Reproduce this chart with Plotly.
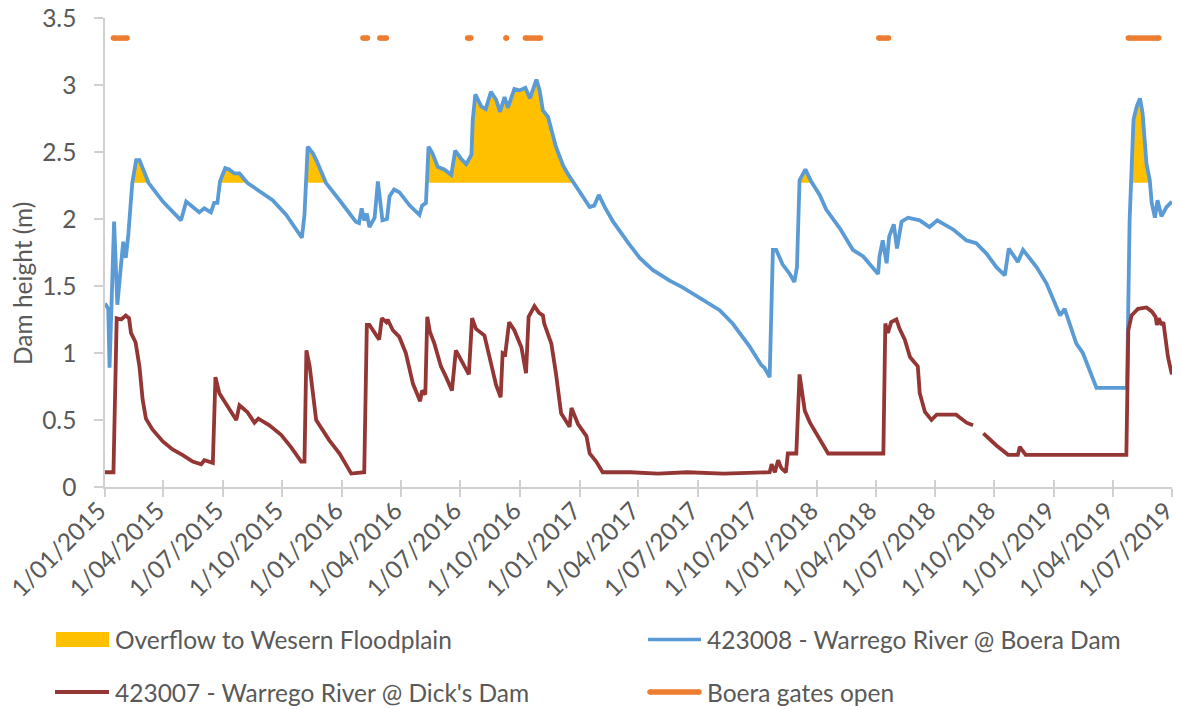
import pandas as pd
import plotly.graph_objects as go

# ---------------- data ----------------
boera_dates = [
    "2015-01-01", "2015-01-06", "2015-01-08", "2015-01-15", "2015-01-20", "2015-01-29",
    "2015-02-02", "2015-02-06", "2015-02-12", "2015-02-18", "2015-02-23", "2015-03-09",
    "2015-03-31", "2015-04-28", "2015-05-06", "2015-05-26", "2015-06-03", "2015-06-13",
    "2015-06-18", "2015-06-23", "2015-06-27", "2015-07-05", "2015-07-11", "2015-07-19",
    "2015-07-27", "2015-08-08", "2015-09-16", "2015-10-07", "2015-10-31", "2015-11-04",
    "2015-11-09", "2015-11-17", "2015-11-24", "2015-12-07", "2015-12-28", "2016-01-15",
    "2016-01-22", "2016-01-27", "2016-01-31", "2016-02-04", "2016-02-08", "2016-02-12",
    "2016-02-20", "2016-02-25", "2016-03-03", "2016-03-10", "2016-03-14", "2016-03-21",
    "2016-03-29", "2016-04-14", "2016-04-29", "2016-05-03", "2016-05-09", "2016-05-13",
    "2016-05-19", "2016-05-27", "2016-06-06", "2016-06-17", "2016-06-23", "2016-07-02",
    "2016-07-10", "2016-07-18", "2016-07-20", "2016-07-24", "2016-08-02", "2016-08-09",
    "2016-08-17", "2016-08-25", "2016-08-31", "2016-09-07", "2016-09-12", "2016-09-22",
    "2016-09-30", "2016-10-09", "2016-10-16", "2016-10-26", "2016-10-31", "2016-11-05",
    "2016-11-13", "2016-11-25", "2016-12-06", "2016-12-13", "2016-12-21", "2017-01-03",
    "2017-01-16", "2017-01-23", "2017-01-30", "2017-02-08", "2017-02-21", "2017-03-18",
    "2017-04-03", "2017-04-23", "2017-05-19", "2017-06-08", "2017-06-29", "2017-08-04",
    "2017-08-24", "2017-09-19", "2017-10-07", "2017-10-12", "2017-10-20", "2017-10-25",
    "2017-10-30", "2017-11-09", "2017-11-20", "2017-11-27", "2017-12-01", "2017-12-05",
    "2017-12-14", "2017-12-23", "2018-01-05", "2018-01-15", "2018-02-05", "2018-02-25",
    "2018-03-13", "2018-03-26", "2018-04-05", "2018-04-07", "2018-04-12", "2018-04-18",
    "2018-04-22", "2018-04-29", "2018-05-04", "2018-05-11", "2018-05-21", "2018-06-08",
    "2018-06-23", "2018-07-05", "2018-07-30", "2018-08-19", "2018-09-03", "2018-09-19",
    "2018-10-04", "2018-10-17", "2018-10-23", "2018-11-06", "2018-11-14", "2018-12-05",
    "2018-12-20", "2019-01-10", "2019-01-17", "2019-02-04", "2019-02-14", "2019-03-07",
    "2019-04-23", "2019-04-27", "2019-05-03", "2019-05-08", "2019-05-13", "2019-05-17",
    "2019-05-23", "2019-05-28", "2019-05-31", "2019-06-05", "2019-06-09", "2019-06-15",
    "2019-06-23", "2019-07-01",
]
boera_level = [
    1.37, 1.33, 0.89, 1.98, 1.36, 1.83,
    1.71, 1.89, 2.27, 2.44, 2.44, 2.27,
    2.13, 1.99, 2.13, 2.05, 2.08, 2.05,
    2.12, 2.12, 2.28, 2.38, 2.37, 2.34,
    2.34, 2.27, 2.14, 2.03, 1.86, 2.03,
    2.54, 2.49, 2.42, 2.27, 2.14, 2.02,
    1.98, 1.97, 2.08, 1.99, 2.04, 1.94,
    2.01, 2.28, 1.99, 2.00, 2.17, 2.22,
    2.20, 2.10, 2.03, 2.10, 2.12, 2.54,
    2.49, 2.39, 2.37, 2.33, 2.51, 2.45,
    2.41, 2.48, 2.74, 2.93, 2.84, 2.82,
    2.95, 2.89, 2.80, 2.91, 2.83, 2.97,
    2.96, 2.98, 2.90, 3.04, 2.96, 2.81,
    2.76, 2.54, 2.40, 2.34, 2.28, 2.19,
    2.09, 2.10, 2.18, 2.09, 1.98, 1.81,
    1.71, 1.62, 1.54, 1.49, 1.43, 1.32,
    1.22, 1.05, 0.91, 0.89, 0.82, 1.77,
    1.77, 1.66, 1.59, 1.53, 1.64, 2.29,
    2.37, 2.28, 2.18, 2.07, 1.93, 1.77,
    1.72, 1.64, 1.59, 1.72, 1.84, 1.67,
    1.87, 1.96, 1.78, 1.98, 2.01, 1.99,
    1.94, 1.99, 1.92, 1.84, 1.82, 1.74,
    1.64, 1.58, 1.78, 1.68, 1.77, 1.64,
    1.52, 1.28, 1.33, 1.07, 1.00, 0.74,
    0.74, 1.99, 2.74, 2.84, 2.90, 2.79,
    2.41, 2.29, 2.12, 2.01, 2.14, 2.02,
    2.09, 2.13,
]

dicks_dates = [
    "2015-01-01", "2015-01-14", "2015-01-19", "2015-01-26", "2015-02-02", "2015-02-07",
    "2015-02-10", "2015-02-17", "2015-02-23", "2015-02-28", "2015-03-05", "2015-03-15",
    "2015-03-31", "2015-04-15", "2015-04-30", "2015-05-16", "2015-05-29", "2015-06-03",
    "2015-06-16", "2015-06-20", "2015-06-26", "2015-07-09", "2015-07-22", "2015-07-27",
    "2015-08-08", "2015-08-19", "2015-08-25", "2015-09-11", "2015-09-29", "2015-10-14",
    "2015-10-30", "2015-11-04", "2015-11-07", "2015-11-12", "2015-11-22", "2015-12-12",
    "2015-12-28", "2016-01-09", "2016-01-15", "2016-02-04", "2016-02-08", "2016-02-12",
    "2016-02-27", "2016-03-02", "2016-03-09", "2016-03-11", "2016-03-19", "2016-03-29",
    "2016-04-08", "2016-04-19", "2016-04-30", "2016-05-03", "2016-05-08", "2016-05-11",
    "2016-05-15", "2016-05-22", "2016-06-01", "2016-06-09", "2016-06-18", "2016-06-24",
    "2016-07-05", "2016-07-14", "2016-07-19", "2016-07-25", "2016-08-07", "2016-08-15",
    "2016-08-25", "2016-09-01", "2016-09-04", "2016-09-08", "2016-09-14", "2016-09-22",
    "2016-10-03", "2016-10-10", "2016-10-14", "2016-10-23", "2016-10-30", "2016-11-05",
    "2016-11-07", "2016-11-18", "2016-11-25", "2016-12-03", "2016-12-16", "2016-12-19",
    "2016-12-29", "2017-01-11", "2017-01-16", "2017-01-26", "2017-02-05", "2017-03-20",
    "2017-05-01", "2017-06-15", "2017-08-10", "2017-10-20", "2017-10-23", "2017-10-28",
    "2017-11-02", "2017-11-07", "2017-11-14", "2017-11-17", "2017-11-30", "2017-12-05",
    "2017-12-13", "2017-12-21", "2018-01-05", "2018-01-18", "2018-04-13", "2018-04-16",
    "2018-04-20", "2018-04-25", "2018-05-03", "2018-05-08", "2018-05-16", "2018-05-24",
    "2018-06-05", "2018-06-08", "2018-06-16", "2018-06-26", "2018-07-04", "2018-08-03",
    "2018-08-19", "2018-08-29", "2018-09-06", "2018-09-14", "2018-10-04", "2018-10-22",
    "2018-11-06", "2018-11-09", "2018-11-18", "2019-04-22", "2019-04-25", "2019-04-30",
    "2019-05-10", "2019-05-23", "2019-05-31", "2019-06-06", "2019-06-08", "2019-06-11",
    "2019-06-15", "2019-06-18", "2019-06-25", "2019-07-01",
]
dicks_level = [
    0.11, 0.11, 1.26, 1.25, 1.28, 1.26,
    1.15, 1.08, 0.90, 0.65, 0.51, 0.43,
    0.34, 0.28, 0.24, 0.19, 0.17, 0.20,
    0.18, 0.82, 0.70, 0.60, 0.50, 0.61,
    0.56, 0.48, 0.51, 0.46, 0.39, 0.30,
    0.19, 0.19, 1.02, 0.90, 0.50, 0.35,
    0.25, 0.15, 0.10, 0.11, 1.21, 1.21,
    1.10, 1.26, 1.23, 1.25, 1.17, 1.12,
    1.00, 0.77, 0.64, 0.72, 0.69, 1.27,
    1.16, 1.07, 0.90, 0.82, 0.72, 1.02,
    0.92, 0.84, 1.26, 1.18, 1.13, 0.97,
    0.76, 0.67, 1.00, 0.99, 1.23, 1.17,
    1.04, 0.85, 1.27, 1.35, 1.30, 1.28,
    1.22, 1.07, 0.85, 0.55, 0.45, 0.59,
    0.47, 0.38, 0.25, 0.19, 0.11, 0.11,
    0.10, 0.11, 0.10, 0.11, 0.17, 0.11,
    0.20, 0.14, 0.11, 0.25, 0.25, 0.84,
    0.57, 0.48, 0.36, 0.25, 0.25, 1.22,
    1.15, 1.23, 1.25, 1.18, 1.10, 0.97,
    0.90, 0.70, 0.56, 0.50, 0.54, 0.54,
    0.48, 0.46, None, 0.40, 0.31, 0.24,
    0.24, 0.30, 0.24, 0.24, 1.17, 1.28,
    1.33, 1.34, 1.31, 1.27, 1.21, 1.26,
    1.21, 1.23, 0.97, 0.84,
]

gate_open_start = ["2015-01-14", "2016-02-02", "2016-02-28", "2016-07-12", "2016-09-09",
                   "2016-10-09", "2018-04-06", "2019-04-25"]
gate_open_end = ["2015-02-04", "2016-02-09", "2016-03-09", "2016-07-17", "2016-09-10",
                 "2016-11-01", "2018-04-21", "2019-06-11"]
GATE_MARK_LEVEL = 3.35      # height at which "gates open" is drawn
OVERFLOW_LEVEL = 2.27       # Boera level above which water spills to the floodplain

x_range = ["2015-01-01", "2019-07-01 06:00"]
tick_start = "2015-01-01"
y_tick_values = [0, 0.5, 1, 1.5, 2, 2.5, 3, 3.5]
y_tick_labels = ["0", "0.5", "1", "1.5", "2", "2.5", "3", "3.5"]

series_names = ["Overflow to Wesern Floodplain", "423008 - Warrego River @ Boera Dam",
                "423007 - Warrego River @ Dick's Dam", "Boera gates open"]

# ---------------- styling ----------------
C_FILL = "#FFC000"
C_BLUE = "#5B9BD5"
C_RED = "#943634"
C_ORANGE = "#ED7D31"
C_TEXT = "#595959"
C_AXIS = "#D0D0D0"
FONT = "Lato"
FS = 24.5

W, H = 1181, 709
PL, PR, PT, PB = 105, 1172, 18, 487   # plot area in pixels


def px(x):
    return (x - PL) / (PR - PL)


def py(y):
    return (PB - y) / (PB - PT)


# ---------------- derived geometry ----------------
bt = pd.to_datetime(boera_dates)
fill_x, fill_y = [], []
for i in range(len(bt)):
    v = boera_level[i]
    if i > 0:
        v0 = boera_level[i - 1]
        if (v0 - OVERFLOW_LEVEL) * (v - OVERFLOW_LEVEL) < 0:
            frac = (OVERFLOW_LEVEL - v0) / (v - v0)
            fill_x.append(bt[i - 1] + (bt[i] - bt[i - 1]) * frac)
            fill_y.append(OVERFLOW_LEVEL)
    fill_x.append(bt[i])
    fill_y.append(max(v, OVERFLOW_LEVEL))

gate_x, gate_y = [], []
for s, e in zip(gate_open_start, gate_open_end):
    gate_x += [s, e, None]
    gate_y += [GATE_MARK_LEVEL, GATE_MARK_LEVEL, None]

fig = go.Figure()

# overflow area (between the overflow level and the Boera level)
fig.add_trace(go.Scatter(x=fill_x, y=[OVERFLOW_LEVEL] * len(fill_x), mode="lines",
                         line=dict(width=0, color=C_FILL), showlegend=False, hoverinfo="skip"))
fig.add_trace(go.Scatter(x=fill_x, y=fill_y, mode="lines", fill="tonexty", fillcolor=C_FILL,
                         line=dict(width=0, color=C_FILL), name=series_names[0], showlegend=False))

fig.add_trace(go.Scatter(x=boera_dates, y=boera_level, mode="lines",
                         line=dict(color=C_BLUE, width=3.8), name=series_names[1], showlegend=False))
fig.add_trace(go.Scatter(x=dicks_dates, y=dicks_level, mode="lines", connectgaps=False,
                         line=dict(color=C_RED, width=3.8), name=series_names[2], showlegend=False))
fig.add_trace(go.Scatter(x=gate_x, y=gate_y, mode="lines", connectgaps=False,
                         line=dict(color=C_ORANGE, width=5.5), name=series_names[3], showlegend=False))
fig.add_trace(go.Scatter(x=gate_open_start + gate_open_end,
                         y=[GATE_MARK_LEVEL] * (2 * len(gate_open_start)), mode="markers",
                         marker=dict(color=C_ORANGE, size=5.5), showlegend=False, hoverinfo="skip"))
# carrier for the inner half of the crossing x ticks
fig.add_trace(go.Scatter(x=[tick_start], y=[None], xaxis="x2", showlegend=False, hoverinfo="skip"))

tickfont = dict(family=FONT, size=FS, color=C_TEXT)
fig.update_layout(
    width=W, height=H,
    margin=dict(l=PL, r=W - PR, t=PT, b=H - PB, autoexpand=False),
    paper_bgcolor="white", plot_bgcolor="white",
    showlegend=False,
    xaxis=dict(type="date", range=x_range, tick0=tick_start, dtick="M3",
               tickformat="%-d/%m/%Y", tickangle=-45, ticks="outside", ticklen=8,
               tickcolor=C_AXIS, tickwidth=1.5, showline=True, linecolor=C_AXIS, linewidth=1.5,
               showgrid=False, zeroline=False, tickfont=tickfont, ticklabeloverflow="allow",
               ticklabelstandoff=-10, ticklabelshift=-6, automargin=False),
    xaxis2=dict(type="date", range=x_range, tick0=tick_start, dtick="M3", overlaying="x",
                anchor="y", side="bottom", ticks="inside", ticklen=7, tickcolor=C_AXIS,
                tickwidth=1.5, showticklabels=False, showline=False, showgrid=False,
                zeroline=False, automargin=False),
    yaxis=dict(range=[0, 3.5], tickvals=y_tick_values, ticktext=y_tick_labels,
               ticks="outside", ticklen=9, tickcolor=C_AXIS, tickwidth=1.5,
               showline=True, linecolor=C_AXIS, linewidth=1.5, showgrid=False, zeroline=False,
               tickfont=tickfont, ticklabelstandoff=13, automargin=False),
)

# y axis title
fig.add_annotation(text="Dam height (m)", xref="paper", yref="paper", x=px(22), y=py(284),
                   textangle=-90, showarrow=False, xanchor="center", yanchor="middle",
                   font=dict(family=FONT, size=FS, color=C_TEXT))

# ---------------- legend (two rows, two columns) ----------------
row1, row2 = 639.5, 692
left_sym, right_sym = 56, 648
sym_w = 53
text_gap = 57
shapes = [
    dict(type="rect", xref="paper", yref="paper", x0=px(left_sym), x1=px(left_sym + sym_w),
         y0=py(row1 + 7.5), y1=py(row1 - 7.5), fillcolor=C_FILL, line=dict(width=0)),
    dict(type="line", xref="paper", yref="paper", x0=px(right_sym), x1=px(right_sym + sym_w),
         y0=py(row1), y1=py(row1), line=dict(color=C_BLUE, width=3.5)),
    dict(type="line", xref="paper", yref="paper", x0=px(left_sym - 1), x1=px(left_sym + sym_w),
         y0=py(row2), y1=py(row2), line=dict(color=C_RED, width=4)),
    dict(type="line", xref="paper", yref="paper", x0=px(right_sym + 2), x1=px(right_sym + sym_w - 2),
         y0=py(row2), y1=py(row2), line=dict(color=C_ORANGE, width=5.5)),
]
for cx in (right_sym + 2, right_sym + sym_w - 2):
    shapes.append(dict(type="circle", xref="paper", yref="paper",
                       x0=px(cx - 2.75), x1=px(cx + 2.75), y0=py(row2 + 2.75), y1=py(row2 - 2.75),
                       fillcolor=C_ORANGE, line=dict(width=0)))
fig.update_layout(shapes=shapes)

legend_items = [(series_names[0], left_sym, row1), (series_names[1], right_sym, row1),
                (series_names[2], left_sym, row2), (series_names[3], right_sym, row2)]
for label, sx, ry in legend_items:
    fig.add_annotation(text=label, xref="paper", yref="paper", x=px(sx + text_gap), y=py(ry),
                       showarrow=False, xanchor="left", yanchor="middle",
                       font=dict(family=FONT, size=FS, color=C_TEXT))

fig.write_html("out.html", config={"displayModeBar": False},
               post_script="document.body.style.margin='0px';"
                           "document.body.style.overflow='hidden';")
